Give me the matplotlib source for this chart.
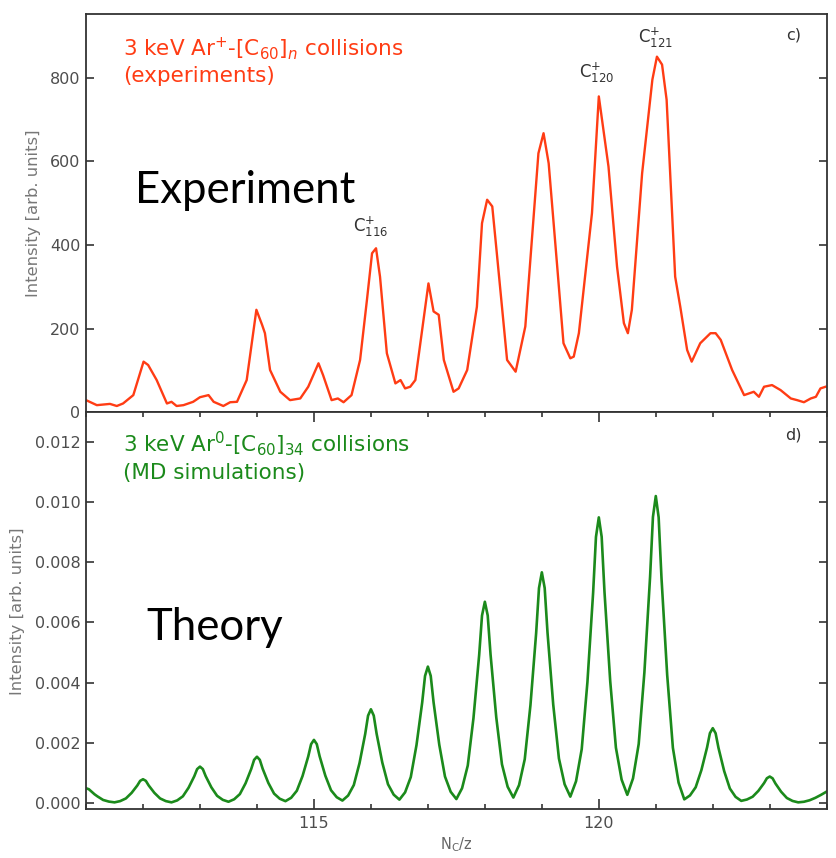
import numpy as np
import matplotlib
matplotlib.use("Agg")
import matplotlib.pyplot as plt
from matplotlib.ticker import FixedLocator

# ---------------- data ----------------
exp_x = [111.0, 111.19, 111.42, 111.54, 111.65, 111.83, 112.01, 112.09, 112.24, 112.42,
         112.5, 112.59, 112.71, 112.88, 113.0, 113.15, 113.24, 113.41, 113.53, 113.65,
         113.82, 113.99, 114.09, 114.14, 114.23, 114.41, 114.58, 114.76, 114.9, 115.08,
         115.16, 115.31, 115.42, 115.52, 115.66, 115.81, 115.93, 116.02, 116.09, 116.16,
         116.28, 116.43, 116.52, 116.6, 116.69, 116.78, 117.01, 117.1, 117.19, 117.28,
         117.45, 117.54, 117.69, 117.86, 117.95, 118.04, 118.13, 118.21, 118.39, 118.54,
         118.71, 118.94, 119.03, 119.12, 119.27, 119.38, 119.5, 119.56, 119.65, 119.88,
         120.0, 120.17, 120.32, 120.44, 120.51, 120.58, 120.76, 120.94, 121.02, 121.11,
         121.19, 121.34, 121.43, 121.55, 121.63, 121.78, 121.96, 122.05, 122.14, 122.34,
         122.55, 122.72, 122.81, 122.9, 123.04, 123.19, 123.37, 123.48, 123.6, 123.72,
         123.81, 123.89, 123.98]
exp_y = [29, 17, 20, 15, 21, 41, 121, 113, 77, 21,
         25, 15, 17, 25, 36, 41, 25, 15, 24, 25,
         77, 245, 209, 189, 101, 49, 29, 33, 61, 117,
         89, 29, 33, 24, 41, 125, 268, 380, 392, 324,
         141, 69, 77, 57, 61, 77, 308, 241, 233, 125,
         49, 57, 101, 252, 452, 508, 492, 380, 125, 97,
         205, 619, 667, 595, 348, 165, 129, 133, 189, 476,
         755, 587, 348, 213, 189, 245, 571, 795, 850, 831,
         747, 324, 252, 149, 121, 165, 189, 189, 173, 101,
         41, 49, 37, 61, 65, 53, 33, 29, 24, 33,
         37, 57, 61]

theory_x = [
    111.0, 111.05, 111.1, 111.15, 111.2, 111.3, 111.4, 111.5,
    111.6, 111.7, 111.8, 111.85, 111.9, 111.95, 112.0, 112.05, 112.1, 112.15, 112.2, 112.3, 112.4, 112.5,
    112.6, 112.7, 112.8, 112.85, 112.9, 112.95, 113.0, 113.05, 113.1, 113.15, 113.2, 113.3, 113.4, 113.5,
    113.6, 113.7, 113.8, 113.85, 113.9, 113.95, 114.0, 114.05, 114.1, 114.15, 114.2, 114.3, 114.4, 114.5,
    114.6, 114.7, 114.8, 114.85, 114.9, 114.95, 115.0, 115.05, 115.1, 115.15, 115.2, 115.3, 115.4, 115.5,
    115.6, 115.7, 115.8, 115.85, 115.9, 115.95, 116.0, 116.05, 116.1, 116.15, 116.2, 116.3, 116.4, 116.5,
    116.6, 116.7, 116.8, 116.85, 116.9, 116.95, 117.0, 117.05, 117.1, 117.15, 117.2, 117.3, 117.4, 117.5,
    117.6, 117.7, 117.8, 117.85, 117.9, 117.95, 118.0, 118.05, 118.1, 118.15, 118.2, 118.3, 118.4, 118.5,
    118.6, 118.7, 118.8, 118.85, 118.9, 118.95, 119.0, 119.05, 119.1, 119.15, 119.2, 119.3, 119.4, 119.5,
    119.6, 119.7, 119.8, 119.85, 119.9, 119.95, 120.0, 120.05, 120.1, 120.15, 120.2, 120.3, 120.4, 120.5,
    120.6, 120.7, 120.8, 120.85, 120.9, 120.95, 121.0, 121.05, 121.1, 121.15, 121.2, 121.3, 121.4, 121.5,
    121.6, 121.7, 121.8, 121.85, 121.9, 121.95, 122.0, 122.05, 122.1, 122.15, 122.2, 122.3, 122.4, 122.5,
    122.6, 122.7, 122.8, 122.85, 122.9, 122.95, 123.0, 123.05, 123.1, 123.15, 123.2, 123.3, 123.4, 123.5,
    123.6, 123.7, 123.8, 123.9, 124.0]
# intensity in units of 1e-4
theory_y_1e4 = [
    4.8, 4.47, 3.6, 2.78, 2.1, 0.9, 0.36, 0.1,
    0.52, 1.41, 3.26, 4.49, 5.72, 7.26, 7.8, 7.26, 5.72, 4.49, 3.26, 1.41, 0.52, 0.1,
    0.75, 2.12, 4.98, 6.88, 8.79, 11.17, 12.0, 11.18, 8.84, 6.97, 5.10, 2.29, 0.94, 0.3,
    1.13, 2.85, 6.45, 8.85, 11.25, 14.25, 15.3, 14.26, 11.30, 8.94, 6.57, 3.02, 1.31, 0.5,
    1.62, 3.97, 8.86, 12.13, 15.39, 19.47, 20.9, 19.49, 15.45, 12.21, 8.98, 4.13, 1.81, 0.7,
    2.37, 5.87, 13.16, 18.03, 22.89, 28.97, 31.1, 28.99, 22.97, 18.16, 13.34, 6.12, 2.66, 1.0,
    3.44, 8.53, 19.16, 26.25, 33.34, 42.20, 45.3, 42.21, 33.39, 26.34, 19.28, 8.70, 3.63, 1.2,
    4.81, 12.37, 28.14, 38.65, 49.16, 62.30, 66.9, 62.34, 49.30, 38.86, 28.43, 12.78, 5.29, 1.7,
    5.83, 14.45, 32.45, 44.45, 56.45, 71.45, 76.7, 71.47, 56.53, 44.58, 32.63, 14.70, 6.11, 2.0,
    7.12, 17.81, 40.13, 55.01, 69.89, 88.49, 95.0, 88.53, 70.05, 55.27, 40.48, 18.31, 7.68, 2.6,
    8.07, 19.52, 43.40, 59.32, 75.24, 95.14, 102.1, 95.03, 74.83, 58.67, 42.51, 18.27, 6.66, 1.1,
    2.40, 5.13, 10.82, 14.61, 18.40, 23.14, 24.8, 23.11, 18.27, 14.39, 10.52, 4.71, 1.93, 0.6,
    1.05, 1.98, 3.92, 5.22, 6.51, 8.13, 8.7, 8.10, 6.38, 5.00, 3.63, 1.56, 0.57, 0.1,
    0.3, 0.8, 1.6, 2.6, 3.7]

exp_yticks = [0, 200, 400, 600, 800]
theory_yticks = [0.000, 0.002, 0.004, 0.006, 0.008, 0.010, 0.012]
theory_yticklabels = ["0.000", "0.002", "0.004", "0.006", "0.008", "0.010", "0.012"]
x_major = [115, 120]
x_minor = [111, 112, 113, 114, 116, 117, 118, 119, 121, 122, 123, 124]

peak_labels = [r"C$^{+}_{116}$", r"C$^{+}_{120}$", r"C$^{+}_{121}$"]
peak_label_x = [116.0, 119.96, 121.0]
peak_label_y = [415, 782, 866]

# ---------------- figure ----------------
assert len(exp_x) == len(exp_y)
assert len(theory_x) == len(theory_y_1e4)

RED = "#ff3c14"
GREEN = "#1b8a1b"
TICKC = "#4d4d4d"
SPINEC = "#333333"

fig = plt.figure(figsize=(8.36, 8.58), dpi=100)
ax1 = fig.add_axes([0.1029, 0.5195, 0.8860, 0.4642])
ax2 = fig.add_axes([0.1029, 0.0568, 0.8860, 0.4627])

for ax in (ax1, ax2):
    for s in ax.spines.values():
        s.set_color(SPINEC)
        s.set_linewidth(1.3)
    ax.set_xlim(111, 124)

# top panel
ax1.plot(exp_x, exp_y, color=RED, lw=1.7, solid_joinstyle="round")
ax1.set_ylim(0, 952)
ax1.set_yticks(exp_yticks)
ax1.tick_params(axis="x", which="both", bottom=False, top=False, labelbottom=False)
ax1.tick_params(axis="y", direction="in", left=True, right=True, length=6, width=1.2,
                color=SPINEC, labelsize=11.5, labelcolor=TICKC, pad=4)
ax1.set_ylabel("Intensity [arb. units]", fontsize=11.8, color="#777777")
ax1.yaxis.set_label_coords(-0.061, 0.5)

ax1.text(0.050, 0.897, r"3 keV Ar$^{+}$-[C$_{60}$]$_{n}$ collisions", transform=ax1.transAxes,
         color=RED, fontsize=15.5, va="baseline", ha="left")
ax1.text(0.050, 0.829, "(experiments)", transform=ax1.transAxes,
         color=RED, fontsize=15.5, va="baseline", ha="left")
ax1.text(0.066, 0.5255, "Experiment", transform=ax1.transAxes, color="black",
         fontsize=31.5, family="Lato", va="baseline", ha="left")
ax1.text(0.955, 0.946, "c)", transform=ax1.transAxes, color=SPINEC, fontsize=11.5,
         va="center", ha="center")
for lab, px, py in zip(peak_labels, peak_label_x, peak_label_y):
    ax1.text(px, py, lab, color="#333333", fontsize=12, ha="center", va="bottom")

# bottom panel
ax2.plot(theory_x, np.array(theory_y_1e4) * 1e-4, color=GREEN, lw=1.9,
         solid_joinstyle="round")
ax2.set_ylim(-0.00022, 0.0130)
ax2.yaxis.set_major_locator(FixedLocator(theory_yticks))
ax2.set_yticklabels(theory_yticklabels)
ax2.xaxis.set_major_locator(FixedLocator(x_major))
ax2.xaxis.set_minor_locator(FixedLocator(x_minor))
ax2.tick_params(axis="y", direction="in", left=True, right=True, length=6, width=1.2,
                color=SPINEC, labelsize=11.5, labelcolor=TICKC, pad=4)
ax2.tick_params(axis="x", which="major", direction="in", top=True, bottom=True, length=7,
                width=1.2, color=SPINEC, labelsize=11.5, labelcolor=TICKC, pad=5)
ax2.tick_params(axis="x", which="minor", direction="in", top=True, bottom=True, length=3.5,
                width=1.2, color=SPINEC)
ax2.set_ylabel("Intensity [arb. units]", fontsize=11.8, color="#777777")
ax2.yaxis.set_label_coords(-0.083, 0.5)
ax2.set_xlabel(r"N$_\mathregular{C}$/z", fontsize=10.5, color="#666666", labelpad=3)

ax2.text(0.050, 0.901, r"3 keV Ar$^{0}$-[C$_{60}$]$_{34}$ collisions", transform=ax2.transAxes,
         color=GREEN, fontsize=15.5, va="baseline", ha="left")
ax2.text(0.050, 0.832, "(MD simulations)", transform=ax2.transAxes,
         color=GREEN, fontsize=15.5, va="baseline", ha="left")
ax2.text(0.082, 0.4265, "Theory", transform=ax2.transAxes, color="black",
         fontsize=31.5, family="Lato", va="baseline", ha="left")
ax2.text(0.955, 0.943, "d)", transform=ax2.transAxes, color=SPINEC, fontsize=11.5,
         va="center", ha="center")

fig.savefig("out.png", dpi=100, facecolor="white")
